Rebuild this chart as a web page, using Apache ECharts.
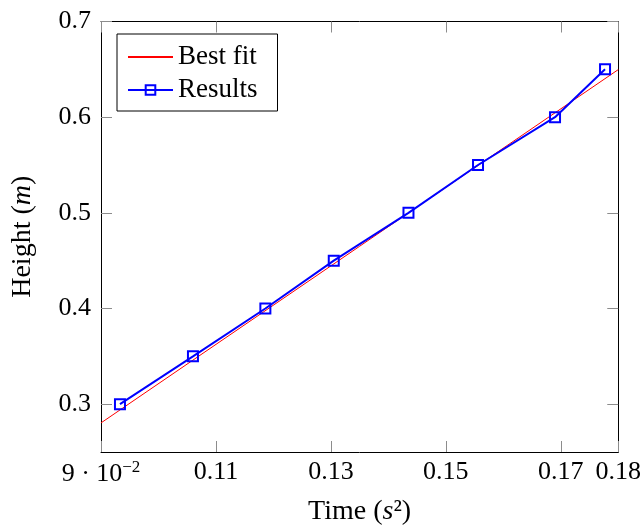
<!DOCTYPE html>
<html>
<head>
<meta charset="utf-8">
<script src="https://cdn.jsdelivr.net/npm/echarts@6/dist/echarts.min.js"></script>
<style>
html,body{margin:0;padding:0;background:#fff;}
#chart{width:644px;height:531px;}
</style>
</head>
<body>
<div id="chart"></div>
<script>
// Data
const timeSq = [0.0933, 0.1060, 0.1186, 0.1305, 0.1435, 0.1556, 0.1690, 0.1777];
const height = [0.30, 0.35, 0.40, 0.45, 0.50, 0.55, 0.60, 0.65];
const fitX = [0.09, 0.18];
const fitY = [0.2804, 0.6497];
const xTicks = [0.09, 0.11, 0.13, 0.15, 0.17, 0.18];
const yTicks = [0.3, 0.4, 0.5, 0.6, 0.7];

const FONT = 'Liberation Serif';
const FS_TICK = 26;
const FS_LEG = 27;
const FS_NAME = 28;
const tickColor = '#8c8c8c';

const chart = echarts.init(document.getElementById('chart'), null, {renderer: 'canvas'});

function xFmt(v) {
  if (Math.abs(v - 0.09) < 1e-6) return '{n|9 · 10}{sup|−2}';
  return v.toFixed(2);
}

const baseX = {
  type: 'value', min: 0.09, max: 0.18,
  axisLine: {show: true, onZero: false, lineStyle: {color: '#000', width: 1}},
  splitLine: {show: false},
  axisTick: {show: true, inside: true, length: 11, customValues: xTicks, lineStyle: {color: tickColor, width: 1}},
};
const baseY = {
  type: 'value', min: 0.25, max: 0.7,
  axisLine: {show: true, onZero: false, lineStyle: {color: '#000', width: 1}},
  splitLine: {show: false},
  axisTick: {show: true, inside: true, length: 11, customValues: yTicks, lineStyle: {color: tickColor, width: 1}},
};

const nameRich = {
  n: {fontFamily: FONT, fontSize: FS_NAME, color: '#000'},
  i: {fontFamily: FONT, fontSize: FS_NAME, fontStyle: 'italic', color: '#000'}
};

const option = {
  backgroundColor: '#fff',
  animation: false,
  textStyle: {fontFamily: FONT},
  grid: {left: 101, right: 25, top: 21.5, bottom: 79, containLabel: false},
  legend: {
    orient: 'vertical', left: 117, top: 34,
    backgroundColor: '#fff', borderColor: '#000', borderWidth: 1,
    padding: [9, 20, 7, 10],
    itemWidth: 45, itemHeight: 12, itemGap: 5,
    textStyle: {fontFamily: FONT, fontSize: FS_LEG, color: '#000', lineHeight: 28},
    data: [
      {name: 'Best fit', itemStyle: {opacity: 0}},
      {name: 'Results'}
    ]
  },
  xAxis: [
    Object.assign({}, baseX, {
      position: 'bottom',
      name: '{n|Time (}{i|s}{n|²)}', nameLocation: 'middle', nameGap: 46,
      nameTextStyle: {rich: nameRich},
      axisLabel: {
        show: true, customValues: xTicks, margin: 7, color: '#000', fontFamily: FONT, fontSize: FS_TICK,
        showMinLabel: true, showMaxLabel: true, hideOverlap: false,
        formatter: xFmt,
        rich: {n: {fontFamily: FONT, fontSize: FS_TICK, color: '#000'}, sup: {fontFamily: FONT, fontSize: 17, color: '#000', padding: [0, 0, 13, 0]}}
      }
    }),
    Object.assign({}, baseX, {position: 'top', axisLabel: {show: false}})
  ],
  yAxis: [
    Object.assign({}, baseY, {
      position: 'left',
      name: '{n|Height (}{i|m}{n|)}', nameLocation: 'middle', nameGap: 64, nameRotate: 90,
      nameTextStyle: {rich: nameRich},
      axisLabel: {
        show: true, customValues: yTicks, margin: 10, color: '#000', fontFamily: FONT, fontSize: FS_TICK,
        showMinLabel: true, showMaxLabel: true,
        formatter: v => v.toFixed(1)
      }
    }),
    Object.assign({}, baseY, {position: 'right', axisLabel: {show: false}})
  ],
  series: [
    {
      name: 'Best fit', type: 'line', xAxisIndex: 0, yAxisIndex: 0,
      data: fitX.map((x, i) => [x, fitY[i]]),
      symbol: 'none', showSymbol: false,
      lineStyle: {color: '#ff0000', width: 1},
      itemStyle: {color: '#ff0000'},
      z: 2
    },
    {
      name: 'Results', type: 'line', xAxisIndex: 0, yAxisIndex: 0,
      data: timeSq.map((x, i) => [x, height[i]]),
      symbol: 'rect', symbolSize: 10, showSymbol: true,
      lineStyle: {color: '#0000ff', width: 2},
      itemStyle: {color: 'rgba(0,0,0,0)', borderColor: '#0000ff', borderWidth: 2},
      z: 3
    }
  ]
};
chart.setOption(option);
</script>
</body>
</html>
